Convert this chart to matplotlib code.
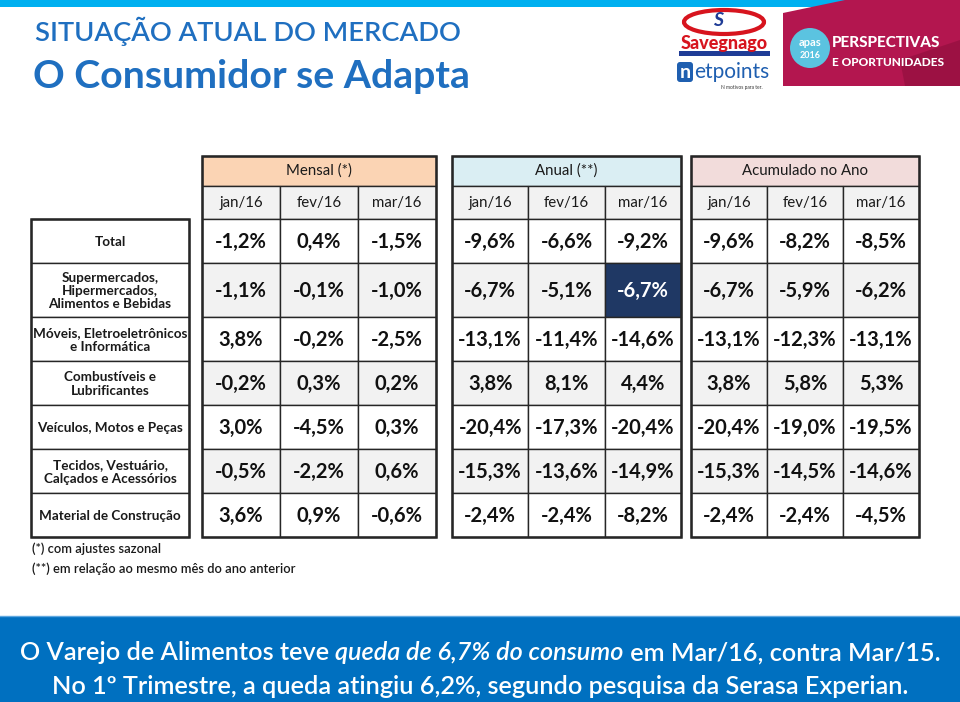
import matplotlib
matplotlib.use('Agg')
import matplotlib.pyplot as plt
from matplotlib.patches import Rectangle, Polygon, Circle, Ellipse, FancyBboxPatch

plt.rcParams['font.family'] = ['Lato', 'DejaVu Sans']

# ---- data ----
row_labels = ['Total',
              'Supermercados,\nHipermercados,\nAlimentos e Bebidas',
              'Móveis, Eletroeletrônicos\ne Informática',
              'Combustíveis e\nLubrificantes',
              'Veículos, Motos e Peças',
              'Tecidos, Vestuário,\nCalçados e Acessórios',
              'Material de Construção']
months = ['jan/16', 'fev/16', 'mar/16']
group_names = ['Mensal (*)', 'Anual (**)', 'Acumulado no Ano']

mensal = [[-1.2, 0.4, -1.5], [-1.1, -0.1, -1.0], [3.8, -0.2, -2.5], [-0.2, 0.3, 0.2],
          [3.0, -4.5, 0.3], [-0.5, -2.2, 0.6], [3.6, 0.9, -0.6]]
anual = [[-9.6, -6.6, -9.2], [-6.7, -5.1, -6.7], [-13.1, -11.4, -14.6], [3.8, 8.1, 4.4],
         [-20.4, -17.3, -20.4], [-15.3, -13.6, -14.9], [-2.4, -2.4, -8.2]]
acumulado = [[-9.6, -8.2, -8.5], [-6.7, -5.9, -6.2], [-13.1, -12.3, -13.1], [3.8, 5.8, 5.3],
             [-20.4, -19.0, -19.5], [-15.3, -14.5, -14.6], [-2.4, -2.4, -4.5]]
highlight = (1, 1, 2)  # row, group, month -> Supermercados, Anual, mar/16

notes = ['(*) com ajustes sazonal', '(**) em relação ao mesmo mês do ano anterior']

footer_lines = [
    [('O Varejo de Alimentos teve ', 'normal'), ('queda de 6,7% do consumo', 'italic'),
     (' em Mar/16, contra Mar/15.', 'normal')],
    [('No 1º Trimestre, a queda atingiu 6,2%, segundo pesquisa da Serasa Experian.', 'normal')],
]

# ---- layout ----
W, H = 960, 702
BLUE = '#0070C0'
group_x = [202, 452, 691]
group_w = [234, 229, 228]
group_fill = ['#FBD4B4', '#DAEEF3', '#F2DCDB']
label_x0, label_x1 = 31, 189
head_top, head_mid, head_bot = 156, 186, 219
row_h = [44, 54, 44, 44, 44, 44, 44]
GRAY = '#F2F2F2'
EDGE = '#262626'

fig = plt.figure(figsize=(W / 100, H / 100), dpi=100)
ax = fig.add_axes([0, 0, 1, 1])
ax.set_xlim(0, W)
ax.set_ylim(H, 0)
ax.axis('off')


def fmt(v):
    return ('%.1f%%' % v).replace('.', ',')


# top stripe + titles
ax.add_patch(Rectangle((0, 0), 850, 7, color='#00B0F0', lw=0))
ax.text(35, 31, 'SITUAÇÃO ATUAL DO MERCADO', color='#1F6FC0', fontsize=19.6,
        va='center', ha='left', fontweight='semibold')
ax.text(33, 76, 'O Consumidor se Adapta', color='#1F6FC0', fontsize=28.3,
        va='center', ha='left', fontweight='bold')

# logos (rough)
ax.add_patch(Ellipse((724, 22), 80, 24, fill=False, ec='#D7141E', lw=3))
ax.text(718, 21, 'S', color='#1F3C96', fontsize=14, fontweight='bold', ha='center', va='center',
        style='italic')
ax.text(724, 43, 'Savegnago', color='#D7141E', fontsize=13, fontweight='black',
        ha='center', va='center')
ax.add_patch(Rectangle((679, 51), 91, 5, color='#1F3C96', lw=0))
ax.add_patch(FancyBboxPatch((677, 62), 16, 20, boxstyle='round,pad=0,rounding_size=3',
                            color='#1F5FB0', lw=0))
ax.text(685, 73, 'n', color='white', fontsize=14, ha='center', va='center', fontweight='bold')
ax.text(694, 72, 'etpoints', color='#1F5FB0', fontsize=15, ha='left', va='center')
ax.text(742, 87, 'N motivos para ter.', color='#333333', fontsize=3.5, ha='center', va='center')

ax.add_patch(Polygon([(783, 13), (845, 0), (960, 0), (960, 86), (783, 86)],
                     closed=True, color='#B3164F', lw=0))
ax.add_patch(Polygon([(900, 60), (960, 40), (960, 86), (905, 86)],
                     closed=True, color='#8E0F3C', lw=0, alpha=0.6))
ax.add_patch(Circle((810, 48), 20, color='#5BC3E0', lw=0))
ax.text(810, 42, 'apas', color='white', fontsize=8, ha='center', va='center', fontweight='bold')
ax.text(810, 55, '2016', color='white', fontsize=6.5, ha='center', va='center', fontweight='bold')
ax.text(832, 43, 'PERSPECTIVAS', color='white', fontsize=11, ha='left', va='center',
        fontweight='black')
ax.text(832, 62, 'E OPORTUNIDADES', color='white', fontsize=8.6, ha='left', va='center',
        fontweight='black')

# row boundaries
row_y = [head_bot]
for h in row_h:
    row_y.append(row_y[-1] + h)

# label column
for i, lab in enumerate(row_labels):
    y0, y1 = row_y[i], row_y[i + 1]
    ax.add_patch(Rectangle((label_x0, y0), label_x1 - label_x0, y1 - y0,
                           fc='white', ec=EDGE, lw=1.0))
    ax.text((label_x0 + label_x1) / 2, (y0 + y1) / 2 + 1, lab, ha='center', va='center',
            fontsize=9.7, fontweight='bold', color='#1A1A1A', linespacing=1.12)
ax.add_patch(Rectangle((label_x0, row_y[0]), label_x1 - label_x0, row_y[-1] - row_y[0],
                       fill=False, ec=EDGE, lw=1.8))

# value groups
groups = [mensal, anual, acumulado]
for g, vals in enumerate(groups):
    gx, gw = group_x[g], group_w[g]
    cw = gw / 3.0
    ax.add_patch(Rectangle((gx, head_top), gw, head_mid - head_top, fc=group_fill[g],
                           ec=EDGE, lw=1.0))
    ax.text(gx + gw / 2, (head_top + head_mid) / 2, group_names[g], ha='center', va='center',
            fontsize=10.8, color='#1A1A1A')
    for j, m in enumerate(months):
        ax.add_patch(Rectangle((gx + j * cw, head_mid), cw, head_bot - head_mid, fc=GRAY,
                               ec=EDGE, lw=1.0))
        ax.text(gx + (j + 0.5) * cw, (head_mid + head_bot) / 2, m, ha='center', va='center',
                fontsize=10.8, color='#1A1A1A')
    for i, row in enumerate(vals):
        y0, y1 = row_y[i], row_y[i + 1]
        for j, v in enumerate(row):
            hl = highlight == (i, g, j)
            fc = '#1F3864' if hl else (GRAY if i % 2 == 1 else 'white')
            ax.add_patch(Rectangle((gx + j * cw, y0), cw, y1 - y0, fc=fc, ec=EDGE, lw=1.0))
            ax.text(gx + (j + 0.5) * cw, (y0 + y1) / 2 + 1, fmt(v), ha='center', va='center',
                    fontsize=14.5, fontweight='bold', color='white' if hl else '#111111')
    ax.add_patch(Rectangle((gx, head_top), gw, row_y[-1] - head_top, fill=False,
                           ec=EDGE, lw=1.8))

# notes
for k, note in enumerate(notes):
    ax.text(32, 549 + 20 * k, note, ha='left', va='center', fontsize=9.3,
            fontweight='semibold', color='#1A1A1A')

# footer band
ax.add_patch(Rectangle((0, 616), W, H - 616, color=BLUE, lw=0))
ax.plot([0, W], [616, 616], color='#5FA8E0', lw=1)

renderer = fig.canvas.get_renderer()


def seg_width(txt, style, size):
    t = ax.text(0, 0, txt, fontsize=size, style=style, fontweight='semibold')
    bb = t.get_window_extent(renderer=renderer)
    t.remove()
    return bb.width


# pick a size so the first footer line spans ~920 px
size = 17
w1 = sum(seg_width(s, st, size) for s, st in footer_lines[0])
size = size * 920.0 / w1

for k, line in enumerate(footer_lines):
    widths = [seg_width(s, st, size) for s, st in line]
    x = W / 2 - sum(widths) / 2
    yc = 653 + 33 * k
    for (s, st), w in zip(line, widths):
        ax.text(x, yc, s, fontsize=size, style=st, fontweight='semibold', color='white',
                ha='left', va='center')
        x += w

fig.savefig('out.png', dpi=100)
